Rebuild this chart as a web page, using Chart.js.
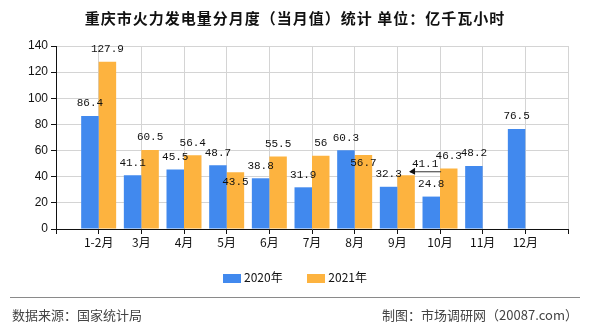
<!DOCTYPE html>
<html>
<head>
<meta charset="utf-8">
<style>
  body { margin: 0; background: #fff; }
  #wrap { position: relative; width: 590px; height: 330px; font-family: "Noto Sans CJK SC", sans-serif; }
  #title { position: absolute; top: 7px; left: 0; width: 590px; text-align: center; font-size: 15px; font-weight: bold; letter-spacing: 1px; color: #111; }
  #legend { position: absolute; top: 268px; left: 0; width: 590px; text-align: center; font-size: 12px; color: #111; }
  #legend span.item { display: inline-block; margin: 0 11px; }
  #legend i { display: inline-block; width: 18px; height: 9px; margin-right: 3px; vertical-align: -1px; }
  #rule { position: absolute; top: 297px; left: 10px; width: 570px; border-top: 1px solid #8a8a8a; }
  #src { position: absolute; top: 305px; left: 12px; font-size: 13px; color: #444; }
  #made { position: absolute; top: 305px; right: 12px; font-size: 13px; color: #444; }
  canvas { position: absolute; top: 0; left: 0; }
</style>
</head>
<body>
<div id="wrap">
  <canvas id="myChart" width="590" height="330"></canvas>
  <div id="title">重庆市火力发电量分月度（当月值）统计 单位：亿千瓦小时</div>
  <div id="legend">
    <span class="item"><i style="background:#4189ee"></i>2020年</span>
    <span class="item"><i style="background:#fdb33f"></i>2021年</span>
  </div>
  <div id="rule"></div>
  <div id="src">数据来源：国家统计局</div>
  <div id="made">制图：市场调研网（20087.com）</div>
</div>
<script src="https://cdn.jsdelivr.net/npm/chart.js@4/dist/chart.umd.min.js"></script>
<script>
// empty labels at both ends give the half-slot margins of the original axis
const months = ["", "1-2月", "3月", "4月", "5月", "6月", "7月", "8月", "9月", "10月", "11月", "12月", ""];
const y2020 = [null, 86.4, 41.1, 45.5, 48.7, 38.8, 31.9, 60.3, 32.3, 24.8, 48.2, 76.5, null];
const y2021 = [null, 127.9, 60.5, 56.4, 43.5, 55.5, 56, 56.7, 41.1, 46.3, null, null, null];
const yTicks = [0, 20, 40, 60, 80, 100, 120, 140];

// labels that the original moved to avoid overlaps
const insideLabels = { "1-4": 9.5, "1-7": 8 };
const pulledLabel = "1-8";

const valueLabels = {
    id: "valueLabels",
    afterDatasetsDraw(chart) {
        const ctx = chart.ctx;
        ctx.save();
        ctx.font = "11px 'Liberation Mono'";
        ctx.fillStyle = "#111";
        ctx.textAlign = "center";
        ctx.textBaseline = "middle";
        chart.data.datasets.forEach((ds, di) => {
            const meta = chart.getDatasetMeta(di);
            meta.data.forEach((bar, i) => {
                const v = ds.data[i];
                if (v == null) return;
                const key = di + "-" + i;
                const txt = String(v);
                if (key in insideLabels) {
                    ctx.fillText(txt, bar.x, bar.y + insideLabels[key]);
                } else if (key === pulledLabel) {
                    const lx = bar.x + 19, ly = bar.y - 11;
                    ctx.fillText(txt, lx, ly);
                    const ay = bar.y - 3.5;
                    ctx.strokeStyle = "#333";
                    ctx.lineWidth = 1;
                    ctx.beginPath();
                    ctx.moveTo(lx + 16, ay);
                    ctx.lineTo(bar.x + 4, ay);
                    ctx.stroke();
                    ctx.beginPath();
                    ctx.moveTo(bar.x + 3, ay);
                    ctx.lineTo(bar.x + 9, ay - 4);
                    ctx.lineTo(bar.x + 9, ay + 3);
                    ctx.closePath();
                    ctx.fillStyle = "#111";
                    ctx.fill();
                } else {
                    ctx.fillText(txt, bar.x, bar.y - 12.5);
                }
            });
        });
        ctx.restore();
    }
};

new Chart("myChart", {
    type: "bar",
    data: {
        labels: months,
        datasets: [
            { label: "2020年", data: y2020, backgroundColor: "#4189ee" },
            { label: "2021年", data: y2021, backgroundColor: "#fdb33f" }
        ]
    },
    options: {
        responsive: false,
        animation: false,
        layout: { padding: { left: 0, right: 22, top: 46, bottom: 81 } },
        datasets: { bar: { categoryPercentage: 0.82, barPercentage: 1 } },
        plugins: { legend: { display: false }, title: { display: false }, tooltip: { enabled: false } },
        scales: {
            x: {
                offset: false,
                afterFit: (s) => { s.height = 20; },
                grid: { color: "#d4d4d4", offset: false, tickLength: 5, tickColor: "#111" },
                border: { color: "#111", width: 1 },
                ticks: { color: "#111", font: { size: 12, family: "'Noto Sans CJK SC'" }, padding: 1, maxRotation: 0, autoSkip: false }
            },
            y: {
                min: 0,
                max: 140,
                afterFit: (s) => { s.width = 56; },
                afterBuildTicks: (s) => { s.ticks = yTicks.map(v => ({ value: v })); },
                grid: { color: "#d4d4d4", tickLength: 5, tickColor: "#111" },
                border: { color: "#111", width: 1 },
                ticks: { color: "#111", font: { size: 12, family: "'Liberation Sans'" }, padding: 3 }
            }
        }
    },
    plugins: [valueLabels]
});
</script>
</body>
</html>
